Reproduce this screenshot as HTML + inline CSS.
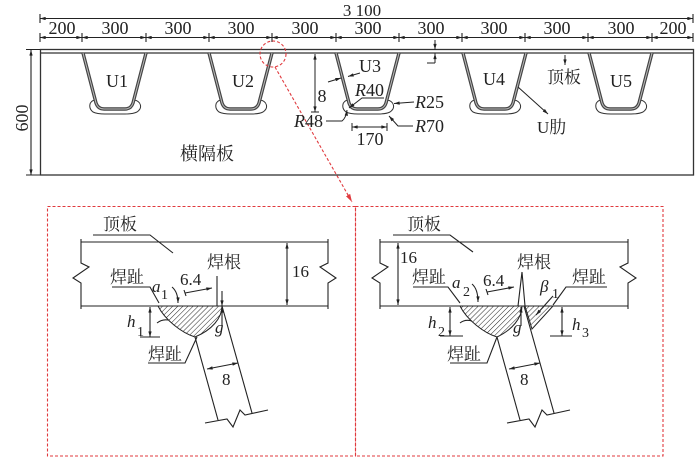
<!DOCTYPE html>
<html><head><meta charset="utf-8"><style>
html,body{margin:0;padding:0;background:#fff;}
svg{display:block;}
text{font-family:"Liberation Serif","Noto Serif CJK SC",serif;fill:#222;}
.i{font-style:italic;}
</style></head><body>
<svg width="700" height="462" viewBox="0 0 700 462" xmlns="http://www.w3.org/2000/svg">
<defs>
<marker id="a" viewBox="0 0 10 6" refX="10" refY="3" markerWidth="6" markerHeight="3.4" markerUnits="userSpaceOnUse" orient="auto-start-reverse"><path d="M0,0 L10,3 L0,6 z" fill="#222"/></marker>
<marker id="r" viewBox="0 0 10 6" refX="10" refY="3" markerWidth="8" markerHeight="5" markerUnits="userSpaceOnUse" orient="auto"><path d="M0,0 L10,3 L0,6 z" fill="#e03a3e"/></marker>
<pattern id="h" width="3.6" height="3.6" patternUnits="userSpaceOnUse" patternTransform="rotate(45)"><line x1="0" y1="0" x2="0" y2="3.6" stroke="#222" stroke-width="1"/></pattern>
</defs>
<rect width="700" height="462" fill="#fff"/>

<g stroke="#222" stroke-width="1.1" fill="none">
<!-- overall dim -->
<path d="M40,18.5 H693" marker-start="url(#a)" marker-end="url(#a)"/>
<path d="M40,14 V23 M693,14 V23"/>
<!-- segment dims -->
<path d="M40,37.5 H82" marker-start="url(#a)" marker-end="url(#a)"/>
<path d="M82,37.5 H146" marker-start="url(#a)" marker-end="url(#a)"/>
<path d="M146,37.5 H209" marker-start="url(#a)" marker-end="url(#a)"/>
<path d="M209,37.5 H272" marker-start="url(#a)" marker-end="url(#a)"/>
<path d="M272,37.5 H336" marker-start="url(#a)" marker-end="url(#a)"/>
<path d="M336,37.5 H399" marker-start="url(#a)" marker-end="url(#a)"/>
<path d="M399,37.5 H462" marker-start="url(#a)" marker-end="url(#a)"/>
<path d="M462,37.5 H525" marker-start="url(#a)" marker-end="url(#a)"/>
<path d="M525,37.5 H588" marker-start="url(#a)" marker-end="url(#a)"/>
<path d="M588,37.5 H652" marker-start="url(#a)" marker-end="url(#a)"/>
<path d="M652,37.5 H693" marker-start="url(#a)" marker-end="url(#a)"/>
<path d="M40,33 V42 M82,33 V42 M146,33 V42 M209,33 V42 M272,33 V42 M336,33 V42 M399,33 V42 M462,33 V42 M525,33 V42 M588,33 V42 M652,33 V42 M693,33 V42"/>
<!-- 600 dim -->
<path d="M31,50 V175" marker-start="url(#a)" marker-end="url(#a)"/>
<path d="M26,49.5 H40 M26,175 H40"/>
</g>

<!-- box & deck -->
<g stroke="#333" stroke-width="1.3" fill="none">
<rect x="40.5" y="49.5" width="653" height="125.5"/>
<path d="M40.5,53 H693.5"/>
</g>

<!-- scallops -->
<g stroke="#333" stroke-width="1" fill="none">
<path d="M95,100 C89,101 88,108 93,112 Q97,114 105,114 L125,114 Q133,114 137,112 C143,108 141,101 134,100"/>
<path d="M221,100 C215,101 214,108 219,112 Q223,114 231,114 L251,114 Q259,114 263,112 C269,108 267,101 260,100"/>
<path d="M348,100 C342,101 341,108 346,112 Q350,114 358,114 L378,114 Q386,114 390,112 C396,108 394,101 387,100"/>
<path d="M475,100 C469,101 468,108 473,112 Q477,114 485,114 L505,114 Q513,114 517,112 C523,108 521,101 514,100"/>
<path d="M601,100 C595,101 594,108 599,112 Q603,114 611,114 L631,114 Q639,114 643,112 C649,108 647,101 640,100"/>
</g>
<!-- U ribs -->
<g fill="none" stroke-linejoin="round">
<g stroke="#444" stroke-width="3.4">
<path d="M83,53 L96,103 Q98,109 104,109 L125,109 Q131,109 133,103 L146,53"/>
<path d="M209,53 L222,103 Q224,109 230,109 L251,109 Q257,109 259,103 L272,53"/>
<path d="M336,53 L349,103 Q351,109 357,109 L378,109 Q384,109 386,103 L399,53"/>
<path d="M463,53 L476,103 Q478,109 484,109 L505,109 Q511,109 513,103 L526,53"/>
<path d="M589,53 L602,103 Q604,109 610,109 L631,109 Q637,109 639,103 L652,53"/>
</g>
<g stroke="#bbb" stroke-width="1">
<path d="M83,53 L96,103 Q98,109 104,109 L125,109 Q131,109 133,103 L146,53"/>
<path d="M209,53 L222,103 Q224,109 230,109 L251,109 Q257,109 259,103 L272,53"/>
<path d="M336,53 L349,103 Q351,109 357,109 L378,109 Q384,109 386,103 L399,53"/>
<path d="M463,53 L476,103 Q478,109 484,109 L505,109 Q511,109 513,103 L526,53"/>
<path d="M589,53 L602,103 Q604,109 610,109 L631,109 Q637,109 639,103 L652,53"/>
</g>
</g>

<!-- top annotations -->
<g stroke="#222" stroke-width="1" fill="none">
<path d="M315,54 V112" marker-start="url(#a)" marker-end="url(#a)"/>
<path d="M311,112 H319"/>
<path d="M435,40 V49.5" marker-end="url(#a)"/>
<path d="M435,63 V53.5" marker-end="url(#a)"/>
<path d="M427,63 H435"/>
<path d="M565,55 V65" marker-end="url(#a)"/>
<path d="M518,87 L548,114" marker-end="url(#a)"/>
<path d="M328,82 L341,78" marker-end="url(#a)"/>
<path d="M360,73 L348,76.5" marker-end="url(#a)"/>
<path d="M384,98 H362 L349,108" marker-end="url(#a)"/>
<path d="M414,102 L394,103.5" marker-end="url(#a)"/>
<path d="M413,126 H398 L389,116" marker-end="url(#a)"/>
<path d="M326,121 H342 Q346,118 347,110" marker-end="url(#a)"/>
<path d="M352,127 H387" marker-start="url(#a)" marker-end="url(#a)"/>
<path d="M352,123 V131 M387,123 V131"/>
</g>

<!-- red callout -->
<g stroke="#e03a3e" stroke-width="1.1" fill="none" stroke-dasharray="3,2">
<circle cx="273" cy="54" r="13"/>
<path d="M275,67 L352,202" marker-end="url(#r)"/>
<rect x="47.5" y="206.5" width="308" height="249.5"/>
<rect x="355.5" y="206.5" width="307.5" height="249.5"/>
</g>

<!-- top texts -->
<g font-size="18">
<text x="362" y="16" text-anchor="middle" font-size="17">3 100</text>
<text x="62" y="34" text-anchor="middle">200</text>
<text x="115" y="34" text-anchor="middle">300</text>
<text x="178" y="34" text-anchor="middle">300</text>
<text x="241" y="34" text-anchor="middle">300</text>
<text x="305" y="34" text-anchor="middle">300</text>
<text x="368" y="34" text-anchor="middle">300</text>
<text x="431" y="34" text-anchor="middle">300</text>
<text x="494" y="34" text-anchor="middle">300</text>
<text x="557" y="34" text-anchor="middle">300</text>
<text x="621" y="34" text-anchor="middle">300</text>
<text x="673" y="34" text-anchor="middle">200</text>
<text transform="translate(28,118) rotate(-90)" text-anchor="middle">600</text>
<text x="117" y="87" text-anchor="middle">U1</text>
<text x="243" y="87" text-anchor="middle">U2</text>
<text x="370" y="72" text-anchor="middle">U3</text>
<text x="494" y="85" text-anchor="middle">U4</text>
<text x="621" y="87" text-anchor="middle">U5</text>
<text x="547" y="83" font-size="17">顶板</text>
<text x="537" y="133" font-size="17">U肋</text>
<text x="180" y="160">横隔板</text>
<text x="322" y="102" text-anchor="middle">8</text>
<text x="294" y="127"><tspan class="i">R</tspan>48</text>
<text x="355" y="96"><tspan class="i">R</tspan>40</text>
<text x="415" y="108"><tspan class="i">R</tspan>25</text>
<text x="415" y="132"><tspan class="i">R</tspan>70</text>
<text x="370" y="145" text-anchor="middle">170</text>
</g>

<!-- LEFT DETAIL -->
<path d="M158,306 L222,306 C222,318 212,330 195,337 C182,333 165,320 158,306 Z" fill="url(#h)" stroke="#222" stroke-width="1"/>
<g stroke="#222" stroke-width="1.1" fill="none">
<path d="M81,242 H328 M81,306 H328"/>
<path d="M81,239 V263 L89,267 L73,278 L81,283 V309"/>
<path d="M328,239 V263 L320,267 L336,278 L328,283 V309"/>
<path d="M287,243 V305" marker-start="url(#a)" marker-end="url(#a)"/>
<path d="M93,235 H150 L173,253"/>
<path d="M217,276 V306"/>
<path d="M112,287 H150 L159,303"/>
<path d="M185,293 L212,288" marker-end="url(#a)"/>
<path d="M184,290 L186,296"/>
<path d="M172,287 Q178,292 178,303" marker-end="url(#a)"/>
<path d="M157,323 Q162,319 168,320"/>
<path d="M150,307 V337" marker-start="url(#a)" marker-end="url(#a)"/>
<path d="M140,337 H160"/>
<path d="M222,291 V306" marker-end="url(#a)"/>
<path d="M222,326 V307" marker-end="url(#a)"/>
<path d="M148,363 H185 L197,337"/>
<path d="M222,306 L252,413"/>
<path d="M195,337 L218,420"/>
<path d="M207,369 L238,363" marker-start="url(#a)" marker-end="url(#a)"/>
<path d="M205,423 L227,419 L233,427 L240,410 L245,415 L268,410"/>
</g>
<g font-size="17">
<text x="103" y="230">顶板</text>
<text x="207" y="268">焊根</text>
<text x="292" y="277">16</text>
<text x="110" y="283">焊趾</text>
<text x="152" y="292" class="i">a</text><text x="161" y="299" font-size="14">1</text>
<text x="180" y="285">6.4</text>
<text x="127" y="327" class="i">h</text><text x="137" y="336" font-size="14">1</text>
<text x="215" y="333" class="i">g</text>
<text x="148" y="360">焊趾</text>
<text x="222" y="385">8</text>
</g>

<!-- RIGHT DETAIL -->
<path d="M460,306 L522,306 C522,318 512,330 497,337 C484,333 467,320 460,306 Z" fill="url(#h)" stroke="#222" stroke-width="1"/>
<path d="M525,306 L553,306 L532,329 Z" fill="url(#h)" stroke="#222" stroke-width="1"/>
<g stroke="#222" stroke-width="1.1" fill="none">
<path d="M380,242 H628 M380,306 H628"/>
<path d="M380,239 V263 L388,267 L372,278 L380,283 V309"/>
<path d="M628,239 V263 L620,267 L636,278 L628,283 V309"/>
<path d="M398,243 V305" marker-start="url(#a)" marker-end="url(#a)"/>
<path d="M393,235 H450 L473,252"/>
<path d="M522,272 L518,306 M522,272 L525,306"/>
<path d="M413,287 H448 L460,303"/>
<path d="M487,292 L514,287" marker-end="url(#a)"/>
<path d="M486,289 L488,295"/>
<path d="M472,284 Q478,289 478,302" marker-end="url(#a)"/>
<path d="M460,323 Q465,319 472,321"/>
<path d="M553,296 L536,315" marker-end="url(#a)"/>
<path d="M607,287 H566 L553,305"/>
<path d="M450,307 V336" marker-start="url(#a)" marker-end="url(#a)"/>
<path d="M440,336 H463"/>
<path d="M562,307 V336" marker-start="url(#a)" marker-end="url(#a)"/>
<path d="M550,336 H572"/>
<path d="M521,326 V307" marker-end="url(#a)"/>
<path d="M450,363 H487 L497,337"/>
<path d="M524,306 L554,413"/>
<path d="M497,337 L520,420"/>
<path d="M509,369 L540,363" marker-start="url(#a)" marker-end="url(#a)"/>
<path d="M507,423 L529,419 L535,427 L542,410 L547,415 L570,410"/>
</g>
<g font-size="17">
<text x="407" y="230">顶板</text>
<text x="400" y="263">16</text>
<text x="517" y="268">焊根</text>
<text x="412" y="283">焊趾</text>
<text x="452" y="288" class="i">a</text><text x="463" y="296" font-size="14">2</text>
<text x="483" y="286">6.4</text>
<text x="540" y="292" class="i">β</text><text x="552" y="298" font-size="14">1</text>
<text x="572" y="283">焊趾</text>
<text x="428" y="328" class="i">h</text><text x="438" y="336" font-size="14">2</text>
<text x="513" y="333" class="i">g</text>
<text x="572" y="330" class="i">h</text><text x="582" y="337" font-size="14">3</text>
<text x="447" y="360">焊趾</text>
<text x="520" y="385">8</text>
</g>
</svg>
</body></html>
